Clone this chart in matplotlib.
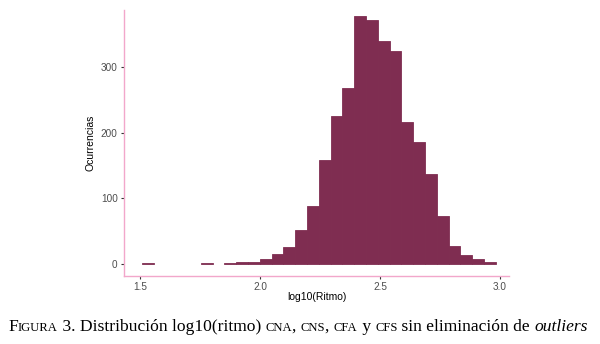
import matplotlib
matplotlib.use("Agg")
import matplotlib.pyplot as plt
from matplotlib.font_manager import FontProperties
import numpy as np

# ---- data ----
bin_start = 1.506
bin_width = 0.04923
counts = [1, 0, 0, 0, 0, 1, 0, 2, 3, 3,
          7, 15, 26, 52, 88, 159, 226, 268, 378, 372,
          340, 324, 216, 185, 137, 73, 28, 14, 8, 3]
x_ticks = [1.5, 2.0, 2.5, 3.0]
y_ticks = [0, 100, 200, 300]
x_label = "log10(Ritmo)"
y_label = "Ocurrencias"

fill = "#7f2d51"
pink = "#f2a7cb"

fig = plt.figure(figsize=(6.0, 3.44), dpi=100)
ax = fig.add_axes([124/600, 1-276/344, (509-124)/600, (276-10)/344])

edges = bin_start + bin_width*np.arange(len(counts)+1)
lws = [0.6 if c > 0 else 0.0 for c in counts]
ax.bar(edges[:-1], counts, width=bin_width, align="edge", color=fill,
       edgecolor=fill, linewidth=lws)

ax.set_xlim(1.432, 3.0375)
ax.set_ylim(-18.3, 386.6)
ax.set_xticks(x_ticks)
ax.set_xticklabels([f"{t:.1f}" for t in x_ticks])
ax.set_yticks(y_ticks)
for s in ["top", "right"]:
    ax.spines[s].set_visible(False)
for s in ["left", "bottom"]:
    ax.spines[s].set_color(pink)
    ax.spines[s].set_linewidth(1.0)
ax.tick_params(axis="both", length=2.5, width=0.8, color="#333333",
               labelsize=7.2, labelcolor="#4d4d4d", pad=2)
for lab in ax.get_xticklabels() + ax.get_yticklabels():
    lab.set_fontfamily("Liberation Sans")

fig.text(317/600, 1-297/344, x_label, ha="center", va="center",
         fontsize=7.5, family="Liberation Sans", color="black")
fig.text(90/600, 1-143/344, y_label, ha="center", va="center", rotation=90,
         fontsize=7.5, family="Liberation Sans", color="black")

# ---- caption with small caps ----
big = 12.6
sc = big*0.72
pieces = [("F", big, "normal"), ("IGURA", sc, "normal"),
          (" 3. Distribución log10(ritmo) ", big, "normal"),
          ("CNA", sc, "normal"), (", ", big, "normal"),
          ("CNS", sc, "normal"), (", ", big, "normal"),
          ("CFA", sc, "normal"), (" y ", big, "normal"),
          ("CFS", sc, "normal"), (" sin eliminación de ", big, "normal"),
          ("outliers", big, "italic")]

renderer = fig.canvas.get_renderer()
base_y = 1-331/344
x = 8
for s, fs, st in pieces:
    fig.text(x/600, base_y, s, fontsize=fs, style=st,
             family="Liberation Serif", ha="left", va="baseline")
    wd, hd, dd = renderer.get_text_width_height_descent(
        s.replace(" ", "\u00a0"),
        FontProperties(family="Liberation Serif", style=st, size=fs),
        ismath=False)
    x += wd

fig.savefig("out.png", dpi=100)
